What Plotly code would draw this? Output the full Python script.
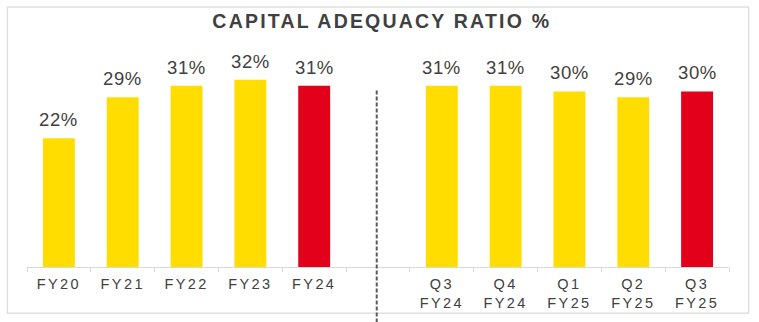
import plotly.graph_objects as go

# Capital adequacy ratio, annual and recent quarters
annual_labels = ["FY20", "FY21", "FY22", "FY23", "FY24"]
annual_values = [22, 29, 31, 32, 31]
quarter_labels = ["Q3<br>FY24", "Q4<br>FY24", "Q1<br>FY25", "Q2<br>FY25", "Q3<br>FY25"]
quarter_values = [31, 31, 30, 29, 30]
spacer = " "

YELLOW = "#FFDD00"
RED = "#E2001A"
TEXT = "#404040"
GRID = "#D9D9D9"
FONT = "Liberation Sans, Arial, sans-serif"

categories = annual_labels + [spacer] + quarter_labels


def bar_colors(values):
    # latest period of each group is highlighted in red
    return [YELLOW] * (len(values) - 1) + [RED]


fig = go.Figure()
fig.add_trace(go.Bar(x=annual_labels, y=annual_values, width=0.5,
                     marker=dict(color=bar_colors(annual_values), line_width=0),
                     hoverinfo="skip"))
fig.add_trace(go.Bar(x=quarter_labels, y=quarter_values, width=0.5,
                     marker=dict(color=bar_colors(quarter_values), line_width=0),
                     hoverinfo="skip"))

# value labels above each bar
for cat, val in list(zip(annual_labels, annual_values)) + list(zip(quarter_labels, quarter_values)):
    fig.add_annotation(x=cat, y=val, text=f"{val}%", showarrow=False,
                       yanchor="bottom", yshift=6,
                       font=dict(family=FONT, size=18.5, color=TEXT))

# separator between annual and quarterly groups
mid = categories.index(spacer)
fig.add_shape(type="line", xref="x", yref="paper", x0=mid - 0.02, x1=mid - 0.02,
              y0=-0.245, y1=0.78, line=dict(color="#5A5A5A", width=2, dash="4px,2px"))

# outer frame
fig.add_shape(type="rect", xref="paper", yref="paper", x0=-0.028, x1=1.028,
              y0=-0.204, y1=1.145, line=dict(color="#E0E0E0", width=1.5),
              layer="below")

fig.update_layout(
    width=759, height=322,
    margin=dict(l=27, r=30, t=40, b=55),
    paper_bgcolor="white", plot_bgcolor="white",
    barmode="overlay", showlegend=False,
    title=dict(text="<b>CAPITAL ADEQUACY RATIO %</b>", x=0.503, xref="container",
               xanchor="center", y=1 - 14 / 322, yref="container", yanchor="top",
               font=dict(family=FONT, size=19.5, color=TEXT)),
    xaxis=dict(type="category", categoryorder="array", categoryarray=categories,
               range=[-0.5, len(categories) - 0.5],
               showline=True, linecolor=GRID, linewidth=1,
               ticks="outside", ticklen=4, tickcolor=GRID, tickwidth=1,
               tickson="boundaries", showgrid=False, zeroline=False,
               ticklabelstandoff=4,
               tickfont=dict(family=FONT, size=14.5, color=TEXT)),
    yaxis=dict(visible=False, range=[0, 38.8], fixedrange=True),
)

letter_spacing_js = """
var gd = document.getElementById('{plot_id}');
function spaceText() {
  gd.querySelectorAll('.xtick text').forEach(function(t){ t.style.letterSpacing = '2.4px'; });
  gd.querySelectorAll('.gtitle').forEach(function(t){ t.style.letterSpacing = '2.2px'; });
  gd.querySelectorAll('.annotation-text').forEach(function(t){ t.style.letterSpacing = '0.6px'; });
}
spaceText();
gd.on('plotly_afterplot', spaceText);
"""

fig.write_html("out.html", post_script=letter_spacing_js,
               config={"displayModeBar": False, "staticPlot": True})
